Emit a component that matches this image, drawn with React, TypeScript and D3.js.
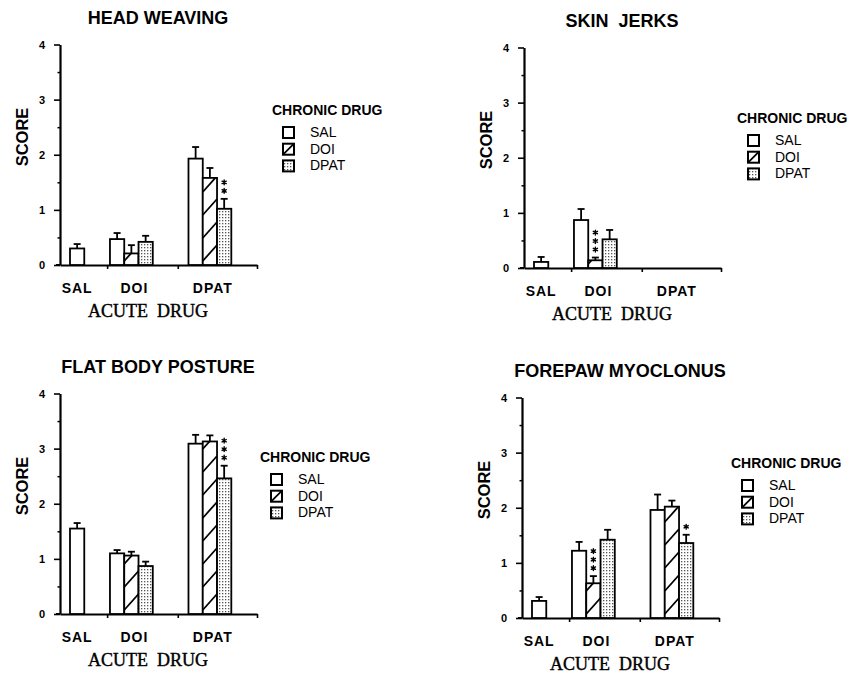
import React, { useEffect, useRef } from "react";
import * as d3 from "d3";

const WIDTH = 848;
const HEIGHT = 673;

const acuteDrugs = ["SAL", "DOI", "DPAT"];
const chronicDrugs = ["SAL", "DOI", "DPAT"];
const scoreTicks = [0, 1, 2, 3, 4];
const minorTicks = [0.5, 1.5, 2.5, 3.5];

// one inner array per acute drug, one value per chronic drug
// (acute SAL was only given to chronic SAL animals)
const headWeavingMean = [[0.3], [0.47, 0.21, 0.42], [1.93, 1.58, 1.02]];
const headWeavingSem = [[0.08], [0.11, 0.15, 0.11], [0.21, 0.18, 0.18]];
const headWeavingStars = [[0], [0, 0, 0], [0, 0, 2]];

const skinJerksMean = [[0.11], [0.87, 0.14, 0.52], [0, 0, 0]];
const skinJerksSem = [[0.09], [0.2, 0.05, 0.17], [0, 0, 0]];
const skinJerksStars = [[0], [0, 3, 0], [0, 0, 0]];

const flatBodyMean = [[1.55], [1.1, 1.06, 0.87], [3.09, 3.13, 2.46]];
const flatBodySem = [[0.1], [0.06, 0.07, 0.08], [0.16, 0.11, 0.23]];
const flatBodyStars = [[0], [0, 0, 0], [0, 0, 3]];

const forepawMean = [[0.31], [1.22, 0.63, 1.42], [1.96, 2.02, 1.36]];
const forepawSem = [[0.07], [0.16, 0.13, 0.18], [0.28, 0.11, 0.15]];
const forepawStars = [[0], [0, 3, 0], [0, 0, 1]];

const panels = [
  { title: "HEAD WEAVING", mean: headWeavingMean, sem: headWeavingSem, stars: headWeavingStars, x: 60, y: 265, lx: 212, ly: -150 },
  { title: "SKIN  JERKS", mean: skinJerksMean, sem: skinJerksSem, stars: skinJerksStars, x: 524, y: 268, lx: 213, ly: -145 },
  { title: "FLAT BODY POSTURE", mean: flatBodyMean, sem: flatBodySem, stars: flatBodyStars, x: 60, y: 614, lx: 200, ly: -152 },
  { title: "FOREPAW MYOCLONUS", mean: forepawMean, sem: forepawSem, stars: forepawStars, x: 522, y: 618, lx: 209, ly: -150 },
];

const SANS = "'Liberation Sans', Arial, sans-serif";
const SERIF = "'Liberation Serif', 'Times New Roman', serif";

// layout in "bar slots"
const SLOTS = 13.8;
const groupStart = [0.7, 3.5, 9.0];
const axisTicks = [3.3, 8.25, SLOTS];

const starPath = (cx: number, cy: number, r: number) =>
  [90, 30, 150]
    .map((a) => {
      const dx = r * Math.cos((a * Math.PI) / 180);
      const dy = r * Math.sin((a * Math.PI) / 180);
      return `M${cx - dx},${cy - dy}L${cx + dx},${cy + dy}`;
    })
    .join("");

export default function App() {
  const svgRef = useRef<SVGSVGElement>(null);

  useEffect(() => {
    const svg = d3.select(svgRef.current);
    svg.selectAll("*").remove();

    const defs = svg.append("defs");
    const dots = defs
      .append("pattern")
      .attr("id", "dots")
      .attr("patternUnits", "userSpaceOnUse")
      .attr("width", 3)
      .attr("height", 3);
    dots.append("rect").attr("width", 3).attr("height", 3).attr("fill", "#fff");
    dots.append("rect").attr("width", 1.3).attr("height", 1.3).attr("fill", "#555");

    const fillFor = (c: string) => (c === "DPAT" ? "url(#dots)" : "#fff");

    panels.forEach((p, pi) => {
      const g = svg.append("g").attr("transform", `translate(${p.x},${p.y})`);
      const y = d3.scaleLinear().domain([0, 4]).range([0, -220.5]);
      const x = d3.scaleLinear().domain([0, SLOTS]).range([0, 197]);
      const bw = x(1) - x(0);

      // title
      g.append("text")
        .attr("x", 98)
        .attr("y", -241)
        .attr("text-anchor", "middle")
        .attr("font-family", SANS)
        .attr("font-weight", "bold")
        .attr("font-size", 18)
        .style("white-space", "pre")
        .text(p.title);

      // y axis
      const yAxis = g
        .append("g")
        .call(d3.axisLeft(y).tickValues(scoreTicks).tickSize(6).tickSizeOuter(0).tickFormat(d3.format("d")));
      yAxis.select(".domain").attr("stroke-width", 2.2);
      yAxis.selectAll("line").attr("stroke-width", 1.6);
      yAxis
        .selectAll("text")
        .attr("font-family", SANS)
        .attr("font-weight", "bold")
        .attr("font-size", 11)
        .attr("x", -15);
      const yMinor = g
        .append("g")
        .call(d3.axisLeft(y).tickValues(minorTicks).tickSize(2.5).tickFormat(() => ""));
      yMinor.select(".domain").remove();
      yMinor.selectAll("line").attr("stroke-width", 1.5);

      g.append("text")
        .attr("transform", `translate(-38,-128) rotate(-90)`)
        .attr("text-anchor", "middle")
        .attr("dominant-baseline", "central")
        .attr("font-family", SANS)
        .attr("font-weight", "bold")
        .attr("font-size", 16.5)
        .text("SCORE");

      // x axis
      const xAxis = g
        .append("g")
        .call(d3.axisBottom(x).tickValues(axisTicks).tickSize(4).tickSizeOuter(0).tickFormat(() => ""));
      xAxis.select(".domain").attr("stroke-width", 2);
      xAxis.selectAll("line").attr("stroke-width", 1.6);
      g.append("line").attr("x1", -4).attr("x2", 0).attr("stroke", "#000").attr("stroke-width", 2);

      acuteDrugs.forEach((a, gi) => {
        const n = p.mean[gi].length;
        const cx = x(groupStart[gi] + n / 2) + (n > 1 ? 3 : 0);
        g.append("text")
          .attr("x", cx)
          .attr("y", 27.5)
          .attr("text-anchor", "middle")
          .attr("font-family", SANS)
          .attr("font-weight", "bold")
          .attr("font-size", 14)
          .attr("letter-spacing", 1)
          .text(a);

        p.mean[gi].forEach((v, ci) => {
          if (v <= 0) return;
          const chronic = chronicDrugs[ci];
          const bx = x(groupStart[gi] + ci);
          const top = y(v);
          const barG = g.append("g");

          if (chronic === "DOI") {
            const id = `clip-${pi}-${gi}-${ci}`;
            defs
              .append("clipPath")
              .attr("id", id)
              .append("rect")
              .attr("x", bx)
              .attr("y", top)
              .attr("width", bw)
              .attr("height", -top);
            barG.append("rect").attr("x", bx).attr("y", top).attr("width", bw).attr("height", -top).attr("fill", "#fff");
            barG
              .append("g")
              .attr("clip-path", `url(#${id})`)
              .selectAll("line")
              .data(d3.range(4, -top + 24, 23))
              .join("line")
              .attr("x1", bx)
              .attr("x2", bx + bw)
              .attr("y1", (o) => -o)
              .attr("y2", (o) => -o - 16)
              .attr("stroke", "#000")
              .attr("stroke-width", 1.8);
          }

          barG
            .append("rect")
            .attr("x", bx)
            .attr("y", top)
            .attr("width", bw)
            .attr("height", -top)
            .attr("fill", chronic === "DOI" ? "none" : fillFor(chronic))
            .attr("stroke", "#000")
            .attr("stroke-width", 1.8);

          // error bar
          const mid = bx + bw / 2;
          const errTop = y(v + p.sem[gi][ci]);
          g.append("line")
            .attr("x1", mid)
            .attr("x2", mid)
            .attr("y1", top)
            .attr("y2", errTop)
            .attr("stroke", "#000")
            .attr("stroke-width", 1.8);
          g.append("line")
            .attr("x1", mid - 3.5)
            .attr("x2", mid + 3.5)
            .attr("y1", errTop)
            .attr("y2", errTop)
            .attr("stroke", "#000")
            .attr("stroke-width", 1.8);

          // significance stars
          d3.range(p.stars[gi][ci]).forEach((k) => {
            g.append("path")
              .attr("d", starPath(mid, errTop - 8 - k * 8.5, 2.4))
              .attr("stroke", "#000")
              .attr("stroke-width", 1.4)
              .attr("stroke-linecap", "round");
          });
        });
      });

      g.append("text")
        .attr("x", 88)
        .attr("y", 52)
        .attr("text-anchor", "middle")
        .attr("font-family", SERIF)
        .attr("font-size", 18)
        .attr("stroke", "#000")
        .attr("stroke-width", 0.4)
        .style("white-space", "pre")
        .text("ACUTE  DRUG");

      // legend
      const lg = g.append("g").attr("transform", `translate(${p.lx},${p.ly})`);
      lg.append("text")
        .attr("font-family", SANS)
        .attr("font-weight", "bold")
        .attr("font-size", 14)
        .text("CHRONIC DRUG");
      chronicDrugs.forEach((c, i) => {
        const ry = 12 + i * 16.7;
        lg.append("rect")
          .attr("x", 11)
          .attr("y", ry)
          .attr("width", 11)
          .attr("height", 11)
          .attr("fill", fillFor(c))
          .attr("stroke", "#000")
          .attr("stroke-width", 2);
        if (c === "DOI") {
          lg.append("line")
            .attr("x1", 11)
            .attr("y1", ry + 11)
            .attr("x2", 22)
            .attr("y2", ry)
            .attr("stroke", "#000")
            .attr("stroke-width", 1.8);
        }
        lg.append("text")
          .attr("x", 38)
          .attr("y", ry + 10)
          .attr("font-family", SANS)
          .attr("font-size", 14)
          .text(c);
      });
    });
  }, []);

  return (
    <svg
      ref={svgRef}
      width={WIDTH}
      height={HEIGHT}
      style={{ position: "absolute", left: 0, top: 0, display: "block", background: "#fff" }}
    />
  );
}
